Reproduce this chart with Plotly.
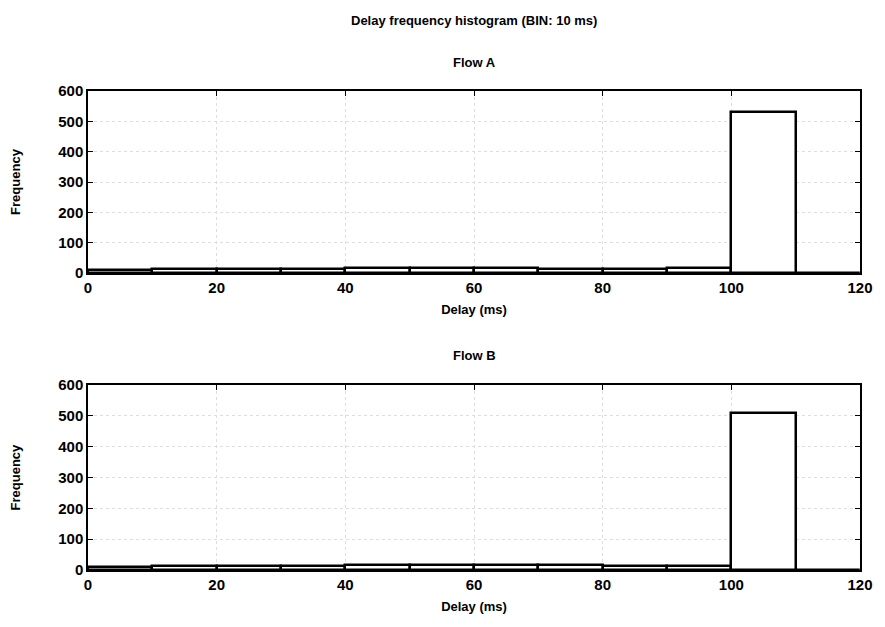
import plotly.graph_objects as go

bin_starts = [0, 10, 20, 30, 40, 50, 60, 70, 80, 90, 100, 110]
bin_width = 10
flow_a = [10, 12, 13, 14, 15, 15, 15, 14, 14, 15, 531, 0]
flow_b = [8, 12, 13, 14, 15, 16, 16, 16, 14, 14, 510, 0]
x_ticks = [0, 20, 40, 60, 80, 100, 120]
y_ticks = [0, 100, 200, 300, 400, 500, 600]

centers = [s + bin_width / 2 for s in bin_starts]
font = dict(family="Liberation Sans, Arial, sans-serif", color="black")

fig = go.Figure()
for vals, xa, ya in [(flow_a, "x", "y"), (flow_b, "x2", "y2")]:
    fig.add_trace(go.Bar(
        x=centers, y=vals, width=bin_width, xaxis=xa, yaxis=ya,
        marker=dict(color="white", line=dict(color="black", width=2.5)),
        showlegend=False,
    ))

grid_color = "#dedede"

def xaxis(anchor):
    return dict(range=[0, 120], tickvals=x_ticks, ticks="inside", ticklen=5,
                tickcolor="black", showline=True, linecolor="black", linewidth=1.5,
                mirror="ticks", showgrid=True, gridcolor=grid_color, griddash="dot",
                gridwidth=1, zeroline=False, anchor=anchor,
                tickfont=dict(size=15, weight="bold", **font),
                title=dict(text="Delay (ms)", font=dict(size=13, weight="bold", **font), standoff=10))

def yaxis(anchor, domain):
    return dict(range=[0, 600], tickvals=y_ticks, ticks="inside", ticklen=5,
                tickcolor="black", showline=True, linecolor="black", linewidth=1.5,
                mirror="ticks", showgrid=True, gridcolor=grid_color, griddash="dot",
                gridwidth=1, zeroline=False, anchor=anchor, domain=domain,
                tickfont=dict(size=15, weight="bold", **font),
                title=dict(text="Frequency", font=dict(size=13, weight="bold", **font), standoff=35))

fig.update_layout(
    width=885, height=627,
    margin=dict(l=88, r=23, t=91, b=57),
    paper_bgcolor="white", plot_bgcolor="white",
    bargap=0,
    xaxis=xaxis("y"), yaxis=yaxis("x", [0.62, 1.0]),
    xaxis2=xaxis("y2"), yaxis2=yaxis("x2", [0.0, 0.386]),
    annotations=[
        dict(text="Delay frequency histogram (BIN: 10 ms)", x=0.5, y=1.0, yshift=80,
             xref="paper", yref="paper", showarrow=False,
             font=dict(size=13, weight="bold", **font)),
        dict(text="Flow A", x=0.5, xref="paper", yref="paper", y=1.0, yshift=38,
             showarrow=False, font=dict(size=13, weight="bold", **font)),
        dict(text="Flow B", x=0.5, xref="paper", yref="paper", y=0.386, yshift=30,
             showarrow=False, font=dict(size=13, weight="bold", **font)),
    ],
)

fig.write_html("out.html")
